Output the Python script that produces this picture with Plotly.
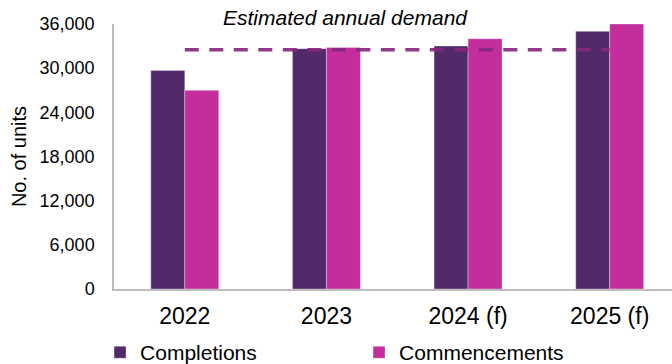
import plotly.graph_objects as go

# Housing supply: completions vs commencements, with estimated annual demand
years = ["2022", "2023", "2024 (f)", "2025 (f)"]
completions = [29700, 32650, 33000, 35000]
commencements = [27000, 32800, 34000, 36000]
demand_years = ["2022", "2025 (f)"]
demand_level = [32500, 32500]
y_ticks = [0, 6000, 12000, 18000, 24000, 30000, 36000]

DARK_PURPLE = "#522A6A"
MAGENTA = "#C32E9C"
DEMAND_COLOR = "rgba(133,40,125,0.92)"
AXIS_GREY = "#BDBDBD"
FONT = "Liberation Sans, Arial, sans-serif"

fig = go.Figure()
fig.add_trace(go.Bar(
    x=years, y=completions, name="Completions",
    marker=dict(color=DARK_PURPLE, line=dict(color="rgba(255,255,255,0.35)", width=1)),
))
fig.add_trace(go.Bar(
    x=years, y=commencements, name="Commencements",
    marker=dict(color=MAGENTA, line=dict(color="rgba(255,255,255,0.35)", width=1)),
))
fig.add_trace(go.Scatter(
    x=demand_years, y=demand_level, mode="lines", showlegend=False,
    line=dict(color=DEMAND_COLOR, width=3.5, dash="14px,10.5px"),
    hoverinfo="skip",
))

fig.add_annotation(
    text="<i>Estimated annual demand</i>",
    xref="paper", yref="paper", x=0.414, y=1.0 + 7 / 265,
    xanchor="center", yanchor="middle", showarrow=False,
    font=dict(family=FONT, size=21, color="#000000"),
)

fig.update_layout(
    width=672, height=364,
    margin=dict(l=114, r=0, t=24, b=75, autoexpand=False),
    paper_bgcolor="white", plot_bgcolor="white",
    barmode="group", bargap=0.52, bargroupgap=0,
    font=dict(family=FONT, color="#000000"),
    showlegend=True,
    legend=dict(
        orientation="h", x=-0.025, xanchor="left", y=-0.240, yanchor="middle",
        font=dict(family=FONT, size=21, color="#000000"),
        entrywidth=214, entrywidthmode="pixels",
        itemclick=False, itemdoubleclick=False,
        bgcolor="rgba(0,0,0,0)",
    ),
)

fig.update_xaxes(
    type="category", range=[-0.5, 3.44],
    showline=True, linecolor=AXIS_GREY, linewidth=1.5,
    showgrid=False, zeroline=False, ticks="",
    tickfont=dict(family=FONT, size=23, color="#000000"),
    ticklabelstandoff=6,
)
fig.update_yaxes(
    range=[0, 36000], tickvals=y_ticks,
    tickformat=",d",
    showline=True, linecolor=AXIS_GREY, linewidth=1.5,
    showgrid=False, zeroline=False, ticks="",
    tickfont=dict(family=FONT, size=18, color="#000000"),
    ticklabelstandoff=14,
    title=dict(text="No. of units", font=dict(family=FONT, size=20, color="#000000"), standoff=8),
)

fig.write_html("out.html")
